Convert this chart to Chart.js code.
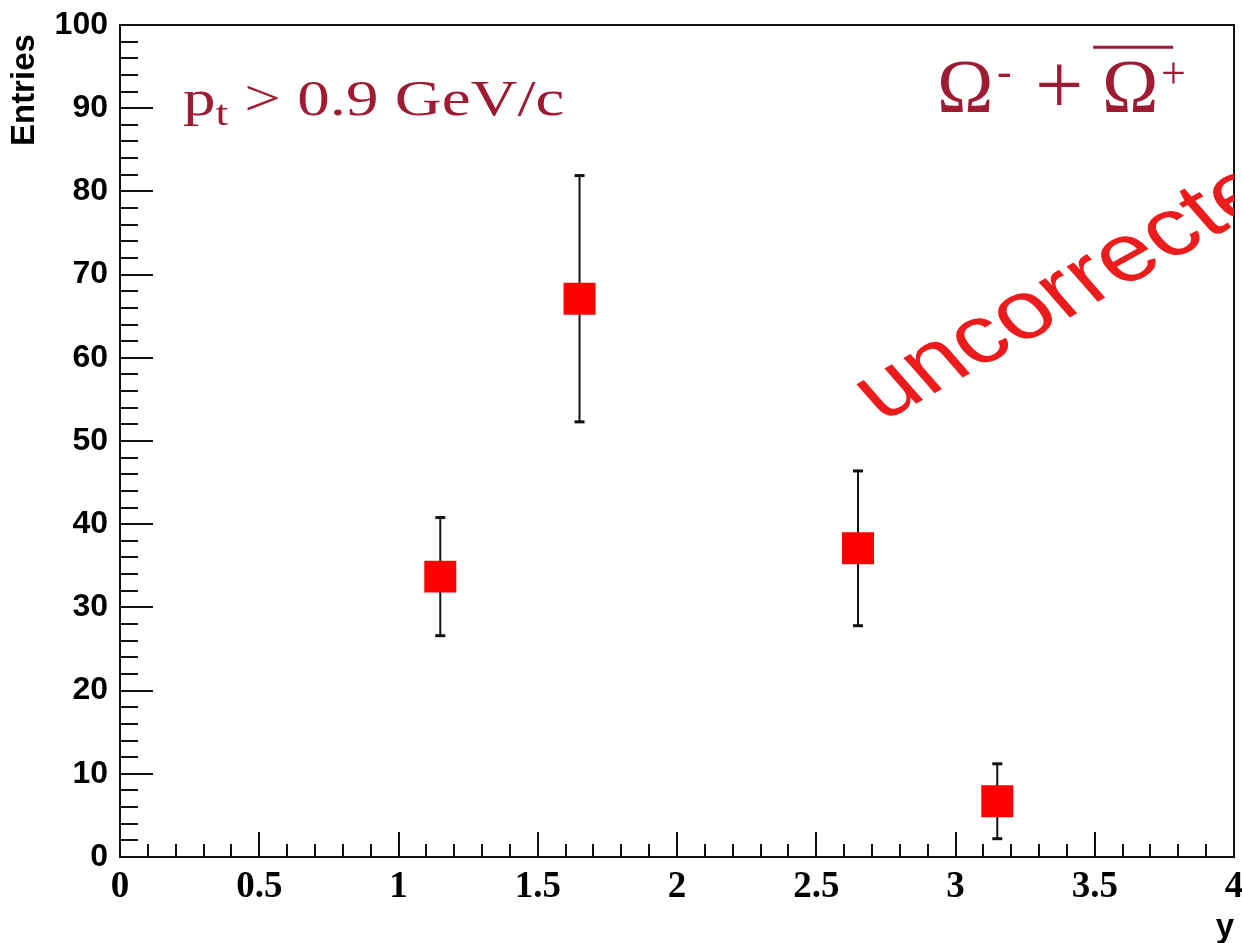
<!DOCTYPE html>
<html>
<head>
<meta charset="utf-8">
<title>Omega yield vs rapidity</title>
<script src="https://cdn.jsdelivr.net/npm/chart.js@4.4.1/dist/chart.umd.min.js"></script>
<style>
  html, body { margin: 0; padding: 0; background: #fff; }
  #wrap { width: 1242px; height: 943px; }
</style>
</head>
<body>
<div id="wrap"><canvas id="omegaChart"></canvas></div>
<script>
// rapidity bin centres, raw counts and their statistical errors
const rapidity = [1.15, 1.65, 2.65, 3.15];
const entries = [33.7, 67.1, 37.1, 6.7];
const errors = [7.1, 14.8, 9.3, 4.5];

const xTickLabels = ['0', '0.5', '1', '1.5', '2', '2.5', '3', '3.5', '4'];
const yTickLabels = ['0', '10', '20', '30', '40', '50', '60', '70', '80', '90', '100'];

const SANS = '"Liberation Sans", Arial, Helvetica, sans-serif';
const SERIF = '"Liberation Serif", "Times New Roman", serif';
const DARK_RED = '#9e1b32';

const points = {
  label: 'entries',
  data: rapidity.map((x, i) => ({ x, y: entries[i] })),
  pointStyle: 'rect',
  pointRadius: 22.6,
  pointHoverRadius: 22.6,
  pointBorderWidth: 0,
  backgroundColor: '#ff0000',
  borderColor: '#ff0000',
  order: 0
};

// one little two-point line per bin for the error bar, caps via the 'line' point style
const errorBars = rapidity.map((x, i) => ({
  label: 'err' + i,
  data: [{ x, y: entries[i] - errors[i] }, { x, y: entries[i] + errors[i] }],
  showLine: true,
  borderColor: '#111',
  borderWidth: 2,
  pointStyle: 'line',
  pointRadius: 5,
  pointHoverRadius: 5,
  pointBorderWidth: 3,
  pointBorderColor: '#111',
  order: 1
}));

// inward ticks (major + minor) and the closed frame
const frameAndTicks = {
  id: 'frameAndTicks',
  beforeDatasetsDraw(chart) {
    const { ctx, chartArea: a, scales: { x, y } } = chart;
    ctx.save();
    ctx.strokeStyle = '#111';
    ctx.lineWidth = 2;
    ctx.beginPath();
    for (let i = 0; i <= 40; i++) {
      const px = Math.round(x.getPixelForValue(i / 10));
      const len = i % 5 === 0 ? 25 : 13;
      ctx.moveTo(px, a.bottom);
      ctx.lineTo(px, a.bottom - len);
    }
    for (let i = 0; i <= 50; i++) {
      const py = Math.round(y.getPixelForValue(i * 2));
      const len = i % 5 === 0 ? 33 : 18;
      ctx.moveTo(a.left, py);
      ctx.lineTo(a.left + len, py);
    }
    ctx.stroke();
    ctx.strokeRect(a.left, a.top, a.right - a.left, a.bottom - a.top);
    ctx.restore();
  }
};

// text inside the frame
const annotations = {
  id: 'annotations',
  afterDatasetsDraw(chart) {
    const { ctx, chartArea: a, scales: { x, y } } = chart;

    // p_t cut
    ctx.save();
    ctx.fillStyle = DARK_RED;
    ctx.textBaseline = 'alphabetic';
    ctx.translate(x.getPixelForValue(0.226), y.getPixelForValue(89.2));
    ctx.scale(1.3, 1);
    ctx.font = '50px ' + SERIF;
    ctx.fillText('p', 0, 0);
    let w = ctx.measureText('p').width;
    ctx.font = '35px ' + SERIF;
    ctx.fillText('t', w, 10);
    w += ctx.measureText('t').width;
    ctx.font = '50px ' + SERIF;
    ctx.fillText(' > 0.9 GeV/c', w, 0);
    ctx.restore();

    // particle label
    ctx.save();
    ctx.fillStyle = DARK_RED;
    ctx.strokeStyle = DARK_RED;
    ctx.translate(x.getPixelForValue(2.934), y.getPixelForValue(89.5));
    ctx.font = '76px ' + SERIF;
    ctx.fillText('\u03A9', 0, 0);
    ctx.font = '44px ' + SERIF;
    ctx.fillText('-', 60, -26);
    ctx.font = '86px ' + SERIF;
    ctx.fillText('+', 98, 2);
    ctx.font = '76px ' + SERIF;
    ctx.fillText('\u03A9', 165, 0);
    ctx.font = '44px ' + SERIF;
    ctx.fillText('+', 224, -24);
    ctx.lineWidth = 3;
    ctx.beginPath();
    ctx.moveTo(156, -65);
    ctx.lineTo(236, -65);
    ctx.stroke();
    ctx.restore();

    // diagonal stamp, cut off by the frame
    ctx.save();
    ctx.beginPath();
    ctx.rect(a.left, a.top, a.right - a.left, a.bottom - a.top);
    ctx.clip();
    ctx.fillStyle = '#ec1c1c';
    ctx.translate(x.getPixelForValue(2.736), y.getPixelForValue(52.2));
    ctx.scale(1.25, 1);
    ctx.rotate(-35 * Math.PI / 180);
    ctx.font = '82px ' + SANS;
    ctx.fillText('uncorrected', 0, 0);
    ctx.restore();
  }
};

new Chart(document.getElementById('omegaChart'), {
  type: 'scatter',
  data: { datasets: [points, ...errorBars] },
  options: {
    responsive: true,
    maintainAspectRatio: false,
    animation: false,
    events: [],
    layout: { autoPadding: false, padding: { top: 25, right: 8, left: 0, bottom: 0 } },
    plugins: {
      legend: { display: false },
      tooltip: { enabled: false }
    },
    scales: {
      x: {
        type: 'linear',
        position: 'bottom',
        min: 0,
        max: 4,
        grid: { display: false, drawTicks: false },
        border: { display: false },
        ticks: {
          stepSize: 0.5,
          autoSkip: false,
          maxRotation: 0,
          padding: 8,
          color: '#000',
          font: { family: SERIF, size: 37, weight: 'bold' },
          callback: (v, i) => xTickLabels[i]
        },
        title: {
          display: true,
          text: 'y',
          align: 'end',
          color: '#000',
          padding: { top: 0, bottom: -5 },
          font: { family: SANS, size: 33, weight: 'bold' }
        },
        afterFit(s) {
          s.height = 86;
          s.paddingLeft = 0;
          s.paddingRight = 0;
        }
      },
      y: {
        type: 'linear',
        min: 0,
        max: 100,
        grid: { display: false, drawTicks: false },
        border: { display: false },
        ticks: {
          stepSize: 10,
          padding: 12,
          color: '#000',
          font: { family: SANS, size: 32, weight: 'bold' },
          callback: (v, i) => yTickLabels[i]
        },
        title: {
          display: true,
          text: 'Entries ',
          align: 'end',
          color: '#000',
          padding: { top: 5, bottom: 0 },
          font: { family: SANS, size: 33, weight: 'bold' }
        },
        afterFit(s) {
          s.width = 120;
          s.paddingTop = 0;
          s.paddingBottom = 0;
        }
      }
    }
  },
  plugins: [frameAndTicks, annotations]
});
</script>
</body>
</html>
